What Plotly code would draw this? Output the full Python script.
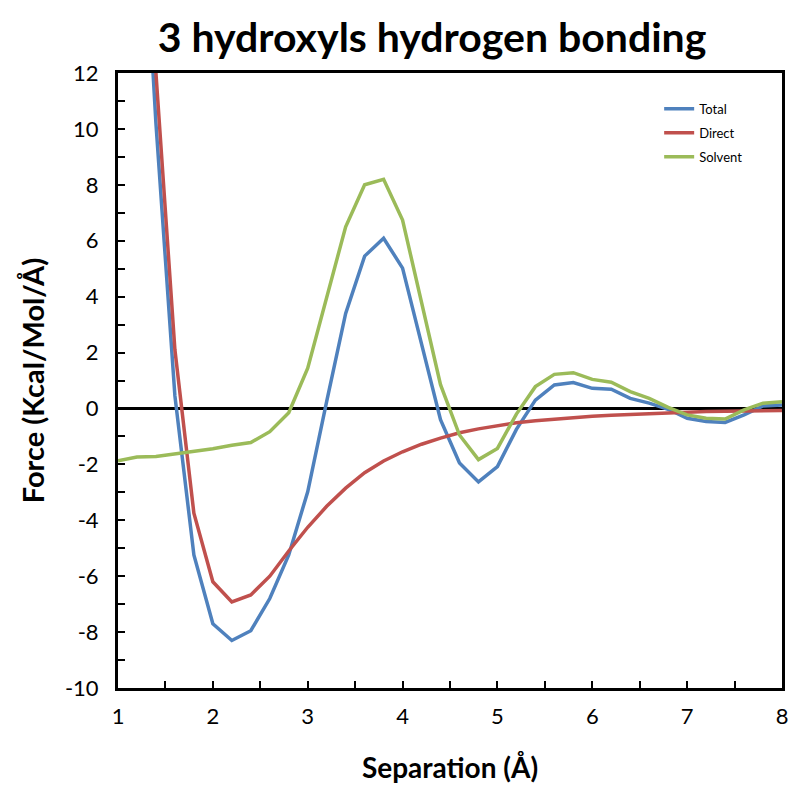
import plotly.graph_objects as go

separation = [1.0, 1.2, 1.4, 1.6, 1.8, 2.0, 2.2, 2.4, 2.6, 2.8, 3.0, 3.2, 3.4, 3.6, 3.8, 4.0,
              4.2, 4.4, 4.6, 4.8, 5.0, 5.2, 5.4, 5.6, 5.8, 6.0, 6.2, 6.4, 6.6, 6.8, 7.0,
              7.2, 7.4, 7.6, 7.8, 8.0]

total = [None, 22.0, 10.2, 0.45, -5.24, -7.7, -8.3, -7.95, -6.8, -5.24, -2.98, 0.25, 3.4, 5.45,
         6.09, 5.02, 2.35, -0.4, -1.95, -2.63, -2.08, -0.75, 0.3, 0.84, 0.93, 0.72, 0.69,
         0.36, 0.19, -0.03, -0.35, -0.47, -0.5, -0.23, 0.09, 0.12]

direct = [None, 24.0, 12.0, 2.1, -3.75, -6.2, -6.92, -6.67, -6.0, -5.1, -4.25, -3.5, -2.85,
          -2.3, -1.88, -1.55, -1.28, -1.06, -0.87, -0.73, -0.61, -0.51, -0.44, -0.38, -0.33,
          -0.28, -0.24, -0.21, -0.18, -0.15, -0.13, -0.11, -0.1, -0.09, -0.08, -0.07]

solvent = [-1.87, -1.74, -1.72, -1.63, -1.53, -1.44, -1.32, -1.22, -0.83, -0.15, 1.44, 3.95,
           6.5, 8.0, 8.2, 6.74, 3.8, 0.85, -0.95, -1.83, -1.43, -0.2, 0.78, 1.22, 1.28, 1.04,
           0.94, 0.6, 0.36, 0.04, -0.23, -0.35, -0.38, -0.05, 0.19, 0.24]

x_ticks = [1, 2, 3, 4, 5, 6, 7, 8]
x_tick_labels = ["1", "2", "3", "4", "5", "6", "7", "8"]
y_ticks = [-10, -8, -6, -4, -2, 0, 2, 4, 6, 8, 10, 12]
y_tick_labels = ["-10", "-8", "-6", "-4", "-2", "0", "2", "4", "6", "8", "10", "12"]

series = [("Total", total, "#4F81BD"), ("Direct", direct, "#C0504D"), ("Solvent", solvent, "#9BBB59")]

FONT = "Lato, Open Sans, sans-serif"

fig = go.Figure()
for i, (name, vals, col) in enumerate(series):
    fig.add_trace(go.Scatter(x=separation, y=vals, mode="lines", name=name,
                             line=dict(color=col, width=3.5), legendgroup=f"g{i}"))

fig.update_layout(
    width=800, height=794,
    margin=dict(l=110, r=26, t=65, b=114),
    paper_bgcolor="white", plot_bgcolor="white",
    font=dict(family=FONT, color="black"),
    title=dict(text="<b>3 hydroxyls hydrogen bonding</b>", x=0.473, xref="paper",
               xanchor="center", y=0.963, yanchor="middle",
               font=dict(size=41, family=FONT, color="black")),
    showlegend=True,
    legend=dict(x=0.815, y=0.966, xanchor="left", yanchor="top",
                bgcolor="rgba(0,0,0,0)", font=dict(size=13, family=FONT),
                tracegroupgap=4, traceorder="grouped", itemwidth=30),
)

fig.update_xaxes(
    range=[1, 8], tickmode="array", tickvals=x_ticks, ticktext=x_tick_labels,
    showline=True, linecolor="black", linewidth=3, mirror=True,
    ticks="inside", ticklen=7, tickwidth=2, tickcolor="black",
    minor=dict(dtick=0.5, tick0=1, ticks="inside", ticklen=7, tickwidth=2, tickcolor="black"),
    showgrid=False, zeroline=False,
    tickfont=dict(size=22, family=FONT), ticklabelstandoff=7,
    title=dict(text="<b>Separation (Å)</b>", font=dict(size=28, family=FONT), standoff=30),
)

fig.update_yaxes(
    range=[-10, 12], tickmode="array", tickvals=y_ticks, ticktext=y_tick_labels,
    showline=True, linecolor="black", linewidth=3, mirror=True,
    ticks="inside", ticklen=7, tickwidth=2, tickcolor="black",
    minor=dict(dtick=1, tick0=0, ticks="inside", ticklen=7, tickwidth=2, tickcolor="black"),
    showgrid=False, zeroline=True, zerolinecolor="black", zerolinewidth=3,
    tickfont=dict(size=22, family=FONT), ticklabelstandoff=12,
    title=dict(text="<b>Force (Kcal/Mol/Å)</b>", font=dict(size=29, family=FONT), standoff=12),
)

fig.write_html("out.html")
